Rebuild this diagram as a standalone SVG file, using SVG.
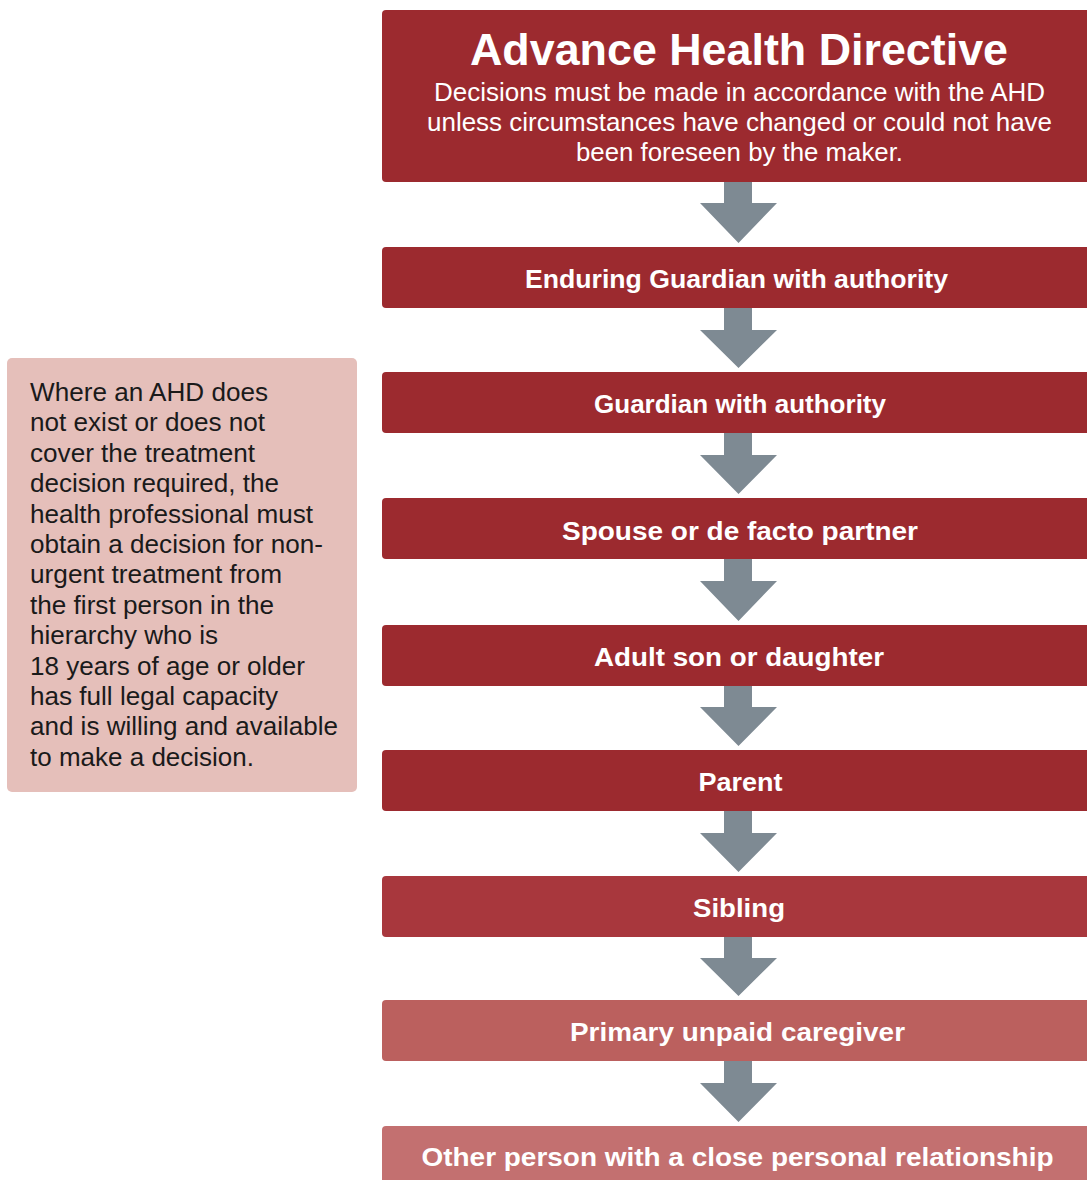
<svg xmlns="http://www.w3.org/2000/svg" width="1087" height="1180" viewBox="0 0 1087 1180">
<style>
.box{fill:#9C2A2F}
.lbl{font-family:"Liberation Sans",Arial,sans-serif;font-weight:bold;font-size:26px;fill:#ffffff;text-anchor:middle}
.title{font-family:"Liberation Sans",Arial,sans-serif;font-weight:bold;font-size:44px;fill:#ffffff;text-anchor:middle}
.sub{font-family:"Liberation Sans",Arial,sans-serif;font-size:25px;fill:#ffffff;text-anchor:middle}
.side{font-family:"Liberation Sans",Arial,sans-serif;font-size:25.5px;fill:#1a1a1a}
.arr{fill:#7E8A93}
</style>
<rect width="1087" height="1180" fill="#ffffff"/>
<g id="connectors">
<path class="arr" d="M724,182H752V203H777L738.5,243L700,203H724Z"/>
<path class="arr" d="M724,308H752V330H777L738.5,368L700,330H724Z"/>
<path class="arr" d="M724,433H752V455H777L738.5,494L700,455H724Z"/>
<path class="arr" d="M724,559H752V581H777L738.5,621L700,581H724Z"/>
<path class="arr" d="M724,686H752V707H777L738.5,746L700,707H724Z"/>
<path class="arr" d="M724,811H752V833H777L738.5,872L700,833H724Z"/>
<path class="arr" d="M724,937H752V958H777L738.5,996L700,958H724Z"/>
<path class="arr" d="M724,1061H752V1083H777L738.5,1122L700,1083H724Z"/>
</g>
<g id="ahd">
<rect class="box" x="382" y="10" width="720" height="172" rx="4"/>
<text class="title" x="739" y="65" textLength="538" lengthAdjust="spacingAndGlyphs">Advance Health Directive</text>
<text class="sub" x="739.5" y="101" textLength="611" lengthAdjust="spacingAndGlyphs">Decisions must be made in accordance with the AHD</text>
<text class="sub" x="739.5" y="131" textLength="625" lengthAdjust="spacingAndGlyphs">unless circumstances have changed or could not have</text>
<text class="sub" x="739.5" y="161" textLength="327" lengthAdjust="spacingAndGlyphs">been foreseen by the maker.</text>
</g>
<g id="enduring-guardian">
<rect class="box" x="382" y="247" width="720" height="61" rx="4"/>
<text class="lbl" x="736.5" y="288" textLength="423" lengthAdjust="spacingAndGlyphs">Enduring Guardian with authority</text>
</g>
<g id="guardian">
<rect class="box" x="382" y="372" width="720" height="61" rx="4"/>
<text class="lbl" x="740" y="413" textLength="292" lengthAdjust="spacingAndGlyphs">Guardian with authority</text>
</g>
<g id="spouse">
<rect class="box" x="382" y="498" width="720" height="61" rx="4"/>
<text class="lbl" x="740" y="540" textLength="356" lengthAdjust="spacingAndGlyphs">Spouse or de facto partner</text>
</g>
<g id="adult-child">
<rect class="box" x="382" y="625" width="720" height="61" rx="4"/>
<text class="lbl" x="739" y="666" textLength="290" lengthAdjust="spacingAndGlyphs">Adult son or daughter</text>
</g>
<g id="parent">
<rect class="box" x="382" y="750" width="720" height="61" rx="4"/>
<text class="lbl" x="740.5" y="791" textLength="84" lengthAdjust="spacingAndGlyphs">Parent</text>
</g>
<g id="sibling">
<rect x="382" y="876" width="720" height="61" rx="4" fill="#A8373D"/>
<text class="lbl" x="739" y="917" textLength="92" lengthAdjust="spacingAndGlyphs">Sibling</text>
</g>
<g id="caregiver">
<rect x="382" y="1000" width="720" height="61" rx="4" fill="#BB605E"/>
<text class="lbl" x="737.5" y="1041" textLength="335" lengthAdjust="spacingAndGlyphs">Primary unpaid caregiver</text>
</g>
<g id="close-person">
<rect x="382" y="1126" width="720" height="80" rx="4" fill="#C37070"/>
<text class="lbl" x="737.5" y="1166" textLength="632" lengthAdjust="spacingAndGlyphs">Other person with a close personal relationship</text>
</g>
<g id="note">
<rect x="7" y="358" width="350" height="434" rx="5" fill="#E5BFBA"/>
<text class="side" x="30" y="401" textLength="238" lengthAdjust="spacingAndGlyphs">Where an AHD does</text>
<text class="side" x="30" y="431" textLength="235" lengthAdjust="spacingAndGlyphs">not exist or does not</text>
<text class="side" x="30" y="462" textLength="225" lengthAdjust="spacingAndGlyphs">cover the treatment</text>
<text class="side" x="30" y="492" textLength="249" lengthAdjust="spacingAndGlyphs">decision required, the</text>
<text class="side" x="30" y="523" textLength="283" lengthAdjust="spacingAndGlyphs">health professional must</text>
<text class="side" x="30" y="553" textLength="293" lengthAdjust="spacingAndGlyphs">obtain a decision for non-</text>
<text class="side" x="30" y="583" textLength="252" lengthAdjust="spacingAndGlyphs">urgent treatment from</text>
<text class="side" x="30" y="614" textLength="244" lengthAdjust="spacingAndGlyphs">the first person in the</text>
<text class="side" x="30" y="644" textLength="188" lengthAdjust="spacingAndGlyphs">hierarchy who is</text>
<text class="side" x="30" y="675" textLength="275" lengthAdjust="spacingAndGlyphs">18 years of age or older</text>
<text class="side" x="30" y="705" textLength="248" lengthAdjust="spacingAndGlyphs">has full legal capacity</text>
<text class="side" x="30" y="735" textLength="308" lengthAdjust="spacingAndGlyphs">and is willing and available</text>
<text class="side" x="30" y="766" textLength="224" lengthAdjust="spacingAndGlyphs">to make a decision.</text>
</g>
</svg>
